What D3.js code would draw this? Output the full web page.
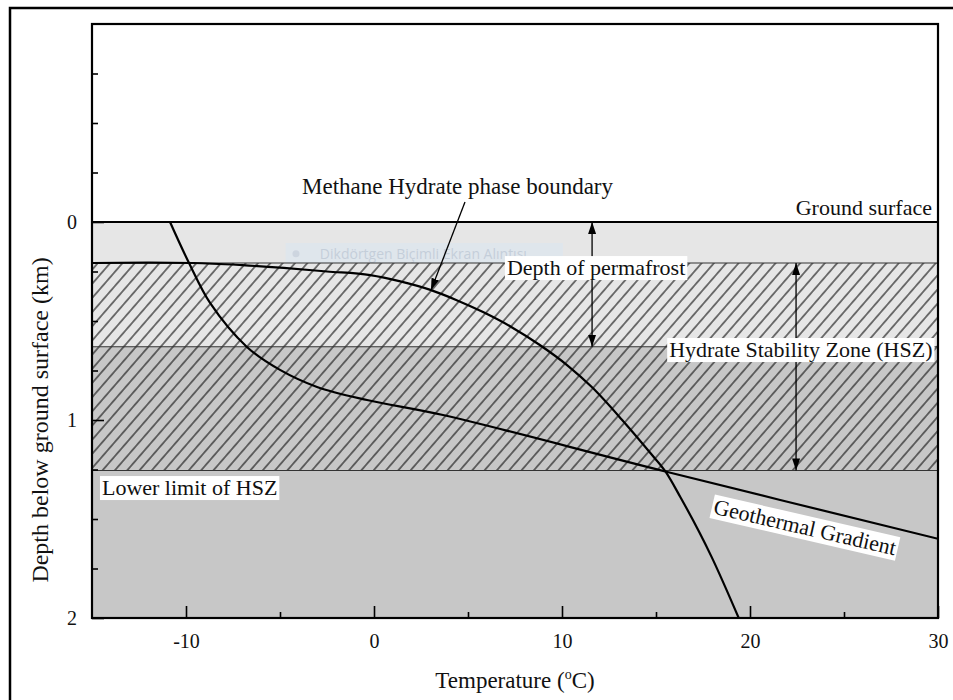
<!DOCTYPE html>
<html>
<head>
<meta charset="utf-8">
<script src="https://cdn.jsdelivr.net/npm/d3@7"></script>
<style>
  html, body { margin: 0; padding: 0; background: #fff; overflow: hidden; }
  svg { display: block; font-family: "Liberation Serif", "Times New Roman", serif; }
</style>
</head>
<body>
<div id="chart"></div>
<script>
// axis ranges
const tempDomain = [-15, 30];
const depthDomain = [-1, 2];
const tempTicks = [-10, 0, 10, 20, 30];
const tempMinor = [-5, 5, 15, 25];
const depthTicks = [0, 1, 2];
const depthMinor = [-0.75, -0.5, -0.25, 0.25, 0.5, 0.75, 1.25, 1.5, 1.75];

// zone depths (km)
const groundSurface = 0;
const hszTop = 0.207;
const permafrostBase = 0.63;
const hszBase = 1.255;

// methane hydrate phase boundary (temperature, depth)
const phaseTemp  = [-15, -12, -9.6, -7, -4.8, -2.5, -0.2, 1.4, 3.0, 4.4, 5.8, 7.3, 8.8, 10.3, 11.6, 13.2, 14.7, 15.5, 16.3, 17.95, 19.4];
const phaseDepth = [0.207, 0.205, 0.207, 0.218, 0.232, 0.25, 0.268, 0.3, 0.343, 0.395, 0.455, 0.53, 0.62, 0.725, 0.835, 1.0, 1.167, 1.26, 1.39, 1.69, 2.0];

// geothermal gradient
const geoTemp  = [-10.85, -9.84, -8.72, -6.76, -5.0, -3.03, -0.37, 3.67, 15.5, 30];
const geoDepth = [0.0, 0.207, 0.409, 0.631, 0.747, 0.833, 0.899, 0.975, 1.26, 1.6];

// text labels
const labelText  = ["Methane Hydrate phase boundary", "Ground surface", "Depth of permafrost", "Hydrate Stability Zone (HSZ)", "Lower limit of HSZ"];
const labelTemp  = [-3.83, 29.68, 7.07, 15.7, -14.47];
const labelDepth = [-0.141, -0.035, 0.268, 0.682, 1.379];

const serif = "'Liberation Serif', 'Times New Roman', serif";
const width = 953, height = 700;
const margin = {top: 24, right: 15, bottom: 82, left: 92};

const svg = d3.select("#chart").append("svg")
    .attr("width", width)
    .attr("height", height);

const x = d3.scaleLinear().domain(tempDomain).range([margin.left, width - margin.right]);
const y = d3.scaleLinear().domain(depthDomain).range([margin.top, height - margin.bottom]);

const defs = svg.append("defs");

defs.append("clipPath").attr("id", "plot-clip")
  .append("rect")
    .attr("x", x(tempDomain[0])).attr("y", y(depthDomain[0]))
    .attr("width", x(tempDomain[1]) - x(tempDomain[0]))
    .attr("height", y(depthDomain[1]) - y(depthDomain[0]));

const hatch = defs.append("pattern")
    .attr("id", "hatch")
    .attr("patternUnits", "userSpaceOnUse")
    .attr("width", 9.3).attr("height", 9.3)
    .attr("patternTransform", "rotate(41)");
hatch.append("line")
    .attr("x1", 4.65).attr("x2", 4.65).attr("y1", -1).attr("y2", 10.3)
    .attr("stroke", "#111").attr("stroke-width", 1.1);

defs.append("marker")
    .attr("id", "head")
    .attr("viewBox", "0 0 12 8")
    .attr("refX", 12).attr("refY", 4)
    .attr("markerWidth", 12).attr("markerHeight", 8)
    .attr("markerUnits", "userSpaceOnUse")
    .attr("orient", "auto-start-reverse")
  .append("path")
    .attr("d", "M0,0L12,4L0,8Z")
    .attr("fill", "#000");

// outer figure frame
svg.append("rect")
    .attr("x", 10).attr("y", 8)
    .attr("width", 1000).attr("height", 1000)
    .attr("fill", "none").attr("stroke", "#000").attr("stroke-width", 2.5);

const plot = svg.append("g").attr("clip-path", "url(#plot-clip)");

const x0 = x(tempDomain[0]), x1 = x(tempDomain[1]);

// background bands
plot.append("rect")
    .attr("x", x0).attr("width", x1 - x0)
    .attr("y", y(groundSurface)).attr("height", y(permafrostBase) - y(groundSurface))
    .attr("fill", "#e6e6e6");
plot.append("rect")
    .attr("x", x0).attr("width", x1 - x0)
    .attr("y", y(permafrostBase)).attr("height", y(depthDomain[1]) - y(permafrostBase))
    .attr("fill", "#c7c7c7");
plot.append("rect")
    .attr("x", x0).attr("width", x1 - x0)
    .attr("y", y(hszTop)).attr("height", y(hszBase) - y(hszTop))
    .attr("fill", "url(#hatch)");

// snipping tool watermark
const wm = plot.append("g").attr("opacity", 0.55);
wm.append("rect")
    .attr("x", x(-4.7)).attr("y", y(0.106))
    .attr("width", x(10.05) - x(-4.7)).attr("height", y(hszTop) - y(0.106))
    .attr("fill", "#dbe6f2");
wm.append("circle")
    .attr("cx", x(-4.15)).attr("cy", y(0.16)).attr("r", 3.5)
    .attr("fill", "#b9c8da");
wm.append("text")
    .attr("x", x(-2.88)).attr("y", y(0.16))
    .attr("dy", "0.35em")
    .attr("font-family", "'Open Sans', 'Noto Sans', sans-serif")
    .attr("font-size", 14)
    .attr("fill", "#a9bbd0")
    .text("Dikdörtgen Biçimli Ekran Alıntısı");

// zone boundaries
[hszTop, permafrostBase, hszBase].forEach(d => {
  plot.append("line")
      .attr("x1", x0).attr("x2", x1)
      .attr("y1", y(d)).attr("y2", y(d))
      .attr("stroke", "#333").attr("stroke-width", 1.2);
});
plot.append("line")
    .attr("x1", x0).attr("x2", x1)
    .attr("y1", y(groundSurface)).attr("y2", y(groundSurface))
    .attr("stroke", "#000").attr("stroke-width", 2.2);

// curves
const line = d3.line()
    .x(d => x(d[0]))
    .y(d => y(d[1]))
    .curve(d3.curveMonotoneX);

plot.append("path")
    .datum(d3.zip(phaseTemp, phaseDepth))
    .attr("d", line)
    .attr("fill", "none").attr("stroke", "#000").attr("stroke-width", 2.2);

plot.append("path")
    .datum(d3.zip(geoTemp, geoDepth))
    .attr("d", line.curve(d3.curveCatmullRom.alpha(0.5)))
    .attr("fill", "none").attr("stroke", "#000").attr("stroke-width", 2.2);

// arrows
svg.append("line")
    .attr("x1", x(4.84)).attr("y1", y(-0.101))
    .attr("x2", x(3.03)).attr("y2", y(0.345))
    .attr("stroke", "#000").attr("stroke-width", 1.3)
    .attr("marker-end", "url(#head)");

svg.append("line")
    .attr("x1", x(11.6)).attr("x2", x(11.6))
    .attr("y1", y(groundSurface)).attr("y2", y(permafrostBase))
    .attr("stroke", "#000").attr("stroke-width", 1.3)
    .attr("marker-start", "url(#head)").attr("marker-end", "url(#head)");

svg.append("line")
    .attr("x1", x(22.45)).attr("x2", x(22.45))
    .attr("y1", y(hszTop)).attr("y2", y(hszBase))
    .attr("stroke", "#000").attr("stroke-width", 1.3)
    .attr("marker-start", "url(#head)").attr("marker-end", "url(#head)");

// labels
function boxed(g) {
  const t = g.select("text");
  const b = t.node().getBBox();
  g.insert("rect", "text")
      .attr("x", b.x - 2).attr("y", b.y + 1)
      .attr("width", b.width + 4).attr("height", b.height - 1)
      .attr("fill", "#fff");
}

labelText.forEach((s, i) => {
  const g = svg.append("g");
  g.append("text")
      .attr("x", x(labelTemp[i]))
      .attr("y", y(labelDepth[i]))
      .attr("text-anchor", i === 1 ? "end" : "start")
      .attr("font-family", serif)
      .attr("font-size", i === 0 ? 23 : 22)
      .attr("fill", "#111")
      .text(s);
  if (i >= 2) boxed(g);
});

const geoLabel = svg.append("g")
    .attr("transform", `translate(${x(22.93)},${y(1.54)}) rotate(13)`);
geoLabel.append("text")
    .attr("text-anchor", "middle")
    .attr("dy", "0.35em")
    .attr("font-family", serif)
    .attr("font-size", 22)
    .attr("fill", "#111")
    .text("Geothermal Gradient");
boxed(geoLabel);

// axes, ticks point inward
const xAxis = svg.append("g")
    .attr("transform", `translate(0,${y(depthDomain[1])})`)
    .call(d3.axisBottom(x).tickValues(tempTicks).tickSize(-12).tickSizeOuter(0).tickPadding(16).tickFormat(d3.format("d")));
svg.append("g")
    .attr("transform", `translate(0,${y(depthDomain[1])})`)
    .call(d3.axisBottom(x).tickValues(tempMinor).tickSize(-6).tickSizeOuter(0).tickFormat(""));

const yAxis = svg.append("g")
    .attr("transform", `translate(${x(tempDomain[0])},0)`)
    .call(d3.axisLeft(y).tickValues(depthTicks).tickSize(-12).tickSizeOuter(0).tickPadding(15).tickFormat(d3.format("d")));
svg.append("g")
    .attr("transform", `translate(${x(tempDomain[0])},0)`)
    .call(d3.axisLeft(y).tickValues(depthMinor).tickSize(-6).tickSizeOuter(0).tickFormat(""));

xAxis.attr("font-family", serif).attr("font-size", 20);
yAxis.attr("font-family", serif).attr("font-size", 20);
svg.selectAll(".domain").remove();
svg.selectAll(".tick line").attr("stroke", "#000").attr("stroke-width", 1.6);
svg.selectAll(".tick text").attr("fill", "#111");
xAxis.selectAll(".tick text").text(d => d < 0 ? "-" + Math.abs(d) : d);

// plot frame
svg.append("rect")
    .attr("x", x0).attr("y", y(depthDomain[0]))
    .attr("width", x1 - x0).attr("height", y(depthDomain[1]) - y(depthDomain[0]))
    .attr("fill", "none").attr("stroke", "#000").attr("stroke-width", 2.2);

// axis titles
const xTitle = svg.append("text")
    .attr("x", (x0 + x1) / 2)
    .attr("y", 688)
    .attr("text-anchor", "middle")
    .attr("font-family", serif)
    .attr("font-size", 23)
    .attr("fill", "#111");
xTitle.append("tspan").text("Temperature (");
xTitle.append("tspan").attr("font-size", 14).attr("dy", -9).text("o");
xTitle.append("tspan").attr("dy", 9).text("C)");

svg.append("text")
    .attr("transform", `translate(48,${y(1)}) rotate(-90)`)
    .attr("text-anchor", "middle")
    .attr("font-family", serif)
    .attr("font-size", 24)
    .attr("fill", "#111")
    .text("Depth below ground surface (km)");
</script>
</body>
</html>
